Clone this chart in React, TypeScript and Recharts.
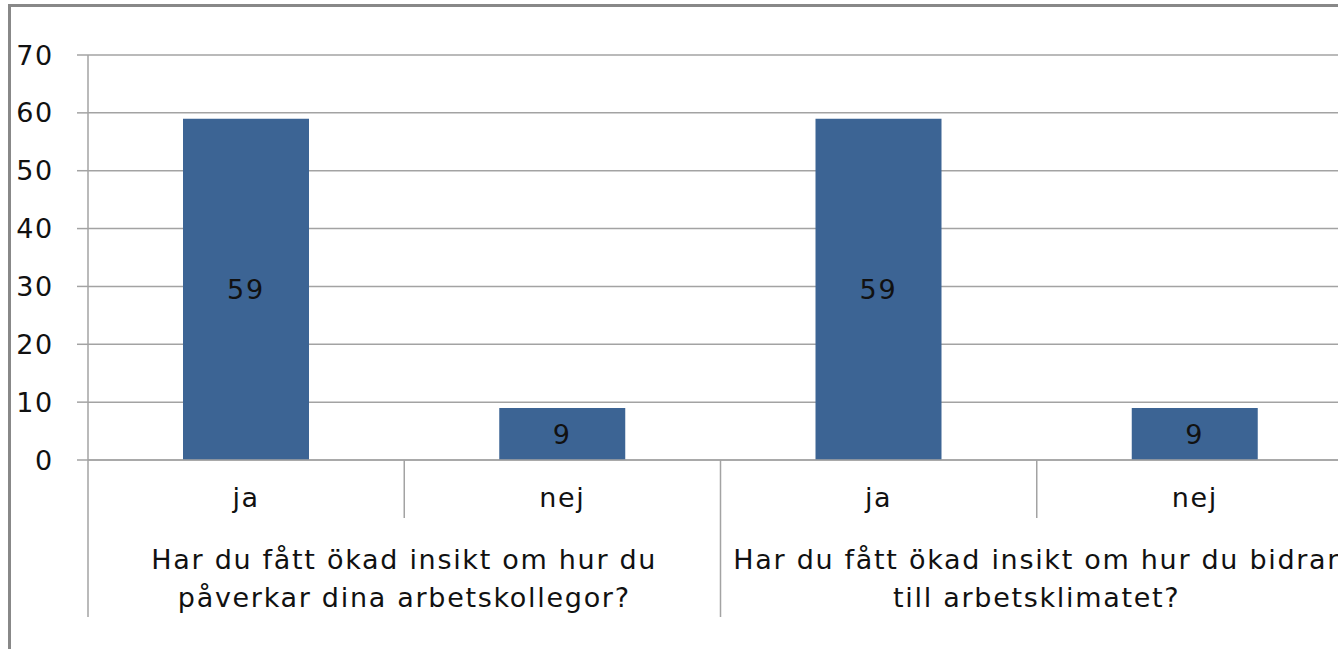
import { Bar, BarChart, CartesianGrid, LabelList, XAxis, YAxis } from "recharts";

const categories = ["ja", "nej", "ja", "nej"];
const groups = [
  ["Har du fått ökad insikt om hur du", "påverkar dina arbetskollegor?"],
  ["Har du fått ökad insikt om hur du bidrar", "till arbetsklimatet?"],
];
const groupOf = [0, 0, 1, 1];
const values = [59, 9, 59, 9];
const yTicks = [0, 10, 20, 30, 40, 50, 60, 70];

const data = categories.map((label, i) => ({ label, group: groupOf[i], value: values[i] }));

const FONT = "'DejaVu Sans', sans-serif";
const SIZE = 27;
const SPACING = 1.7;
const TEXT = "#111";
const LINE = "#a3a3a3";
const BAR = "#3c6494";
const BAND = 316.25;

function CategoryTick(props: any) {
  const { x, y, payload, index } = props;
  const half = BAND / 2;
  const first = index === 0 || groupOf[index] !== groupOf[index - 1];
  const g = groups[groupOf[index]];
  const txt = { textAnchor: "middle" as const, fill: TEXT, fontSize: SIZE, fontFamily: FONT, letterSpacing: SPACING };
  return (
    <g>
      <text x={x} y={y + 47} {...txt}>
        {payload.value}
      </text>
      {index < categories.length - 1 && groupOf[index + 1] === groupOf[index] && (
        <line x1={x + half} x2={x + half} y1={y} y2={y + 58} stroke={LINE} strokeWidth={1.5} />
      )}
      {first && (
        <>
          <line x1={x - half} x2={x - half} y1={y} y2={y + 157} stroke={LINE} strokeWidth={1.5} />
          <text x={x + half} y={y + 109} {...txt}>
            {g[0]}
          </text>
          <text x={x + half} y={y + 147} {...txt}>
            {g[1]}
          </text>
        </>
      )}
    </g>
  );
}

export default function App() {
  return (
    <div style={{ position: "absolute", left: 0, top: 0, width: 1338, height: 649, overflow: "hidden", background: "#fff" }}>
      <div
        style={{
          position: "absolute",
          left: 8,
          top: 4,
          width: 1400,
          height: 700,
          borderLeft: "3px solid #888",
          borderTop: "3px solid #888",
        }}
      />
      <div style={{ position: "absolute", left: 0, top: 0 }}>
        <BarChart width={1370} height={649} data={data} margin={{ top: 55, right: 17, left: 0, bottom: 0 }}>
          <CartesianGrid vertical={false} stroke={LINE} strokeWidth={1.5} />
          <YAxis
            domain={[0, 70]}
            ticks={yTicks}
            width={88}
            interval={0}
            tickSize={11}
            tickMargin={23}
            axisLine={{ stroke: LINE, strokeWidth: 1.5 }}
            tickLine={{ stroke: LINE, strokeWidth: 1.5 }}
            tick={{ fill: TEXT, fontSize: SIZE, fontFamily: FONT, letterSpacing: SPACING }}
          />
          <XAxis
            dataKey="label"
            height={189}
            interval={0}
            tickSize={0}
            tickMargin={0}
            axisLine={{ stroke: LINE, strokeWidth: 1.5 }}
            tickLine={false}
            tick={<CategoryTick />}
          />
          <Bar dataKey="value" fill={BAR} barSize={126} isAnimationActive={false}>
            <LabelList
              dataKey="value"
              position="center"
              fill={TEXT}
              fontSize={SIZE}
              fontFamily={FONT}
              style={{ letterSpacing: SPACING }}
            />
          </Bar>
        </BarChart>
      </div>
    </div>
  );
}
